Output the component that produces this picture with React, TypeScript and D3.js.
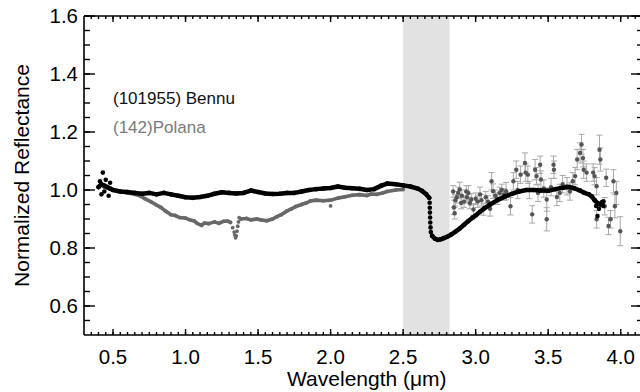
import React from "react";
import * as d3 from "d3";

// axis ticks
const xMajor = [0.5, 1.0, 1.5, 2.0, 2.5, 3.0, 3.5, 4.0];
const xLabels = ["0.5", "1.0", "1.5", "2.0", "2.5", "3.0", "3.5", "4.0"];
const yMajor = [0.6, 0.8, 1.0, 1.2, 1.4, 1.6];
const yLabels = ["0.6", "0.8", "1.0", "1.2", "1.4", "1.6"];
const waterBand = [2.5, 2.82];

// (101955) Bennu, [wavelength, reflectance]
const bennuVis: [number, number][] = [
  [0.4, 1.01], [0.42, 1.02], [0.44, 1.015], [0.46, 1.01], [0.48, 1.005], [0.5, 1.0],
  [0.55, 0.995], [0.6, 0.993], [0.65, 0.99], [0.7, 0.987], [0.75, 0.99], [0.8, 0.985],
  [0.85, 0.99], [0.9, 0.985], [0.95, 0.98], [1.0, 0.975], [1.05, 0.973], [1.1, 0.976],
  [1.15, 0.98], [1.2, 0.987], [1.25, 0.992], [1.3, 0.99], [1.35, 0.988], [1.4, 0.99],
  [1.45, 0.998], [1.5, 0.993], [1.55, 0.988], [1.6, 0.986], [1.65, 0.987], [1.7, 0.99],
  [1.75, 0.99], [1.8, 0.995], [1.85, 1.0], [1.9, 1.003], [1.95, 1.005], [2.0, 1.007],
  [2.05, 1.012], [2.1, 1.008], [2.15, 1.006], [2.2, 1.004], [2.25, 1.0], [2.3, 1.003],
  [2.35, 1.015], [2.39, 1.022], [2.45, 1.02], [2.5, 1.016], [2.55, 1.012], [2.6, 1.005],
  [2.63, 0.997], [2.66, 0.985], [2.68, 0.973],
];
const bennuDrop: [number, number][] = [
  [2.683, 0.956], [2.684, 0.939], [2.685, 0.922], [2.686, 0.905], [2.687, 0.888],
  [2.689, 0.871], [2.691, 0.855],
];
const bennuIR: [number, number][] = [
  [2.7, 0.842], [2.72, 0.832], [2.74, 0.828], [2.76, 0.83], [2.78, 0.834], [2.8, 0.838],
  [2.83, 0.846], [2.86, 0.856], [2.89, 0.867], [2.92, 0.88], [2.95, 0.893], [2.98, 0.905],
  [3.0, 0.912], [3.03, 0.925], [3.06, 0.937], [3.1, 0.95], [3.15, 0.965], [3.2, 0.977],
  [3.25, 0.987], [3.3, 0.995], [3.35, 1.0], [3.4, 1.0], [3.45, 0.998], [3.5, 0.997],
  [3.55, 1.003], [3.6, 1.008], [3.65, 1.01], [3.68, 1.006], [3.72, 0.998], [3.75, 0.99],
  [3.78, 0.985], [3.8, 0.978], [3.82, 0.965], [3.84, 0.955], [3.86, 0.95], [3.88, 0.96],
];
const bennuScatter: [number, number][] = [
  [0.43, 1.06], [0.42, 0.985], [0.47, 0.98], [0.41, 1.03], [0.45, 1.035], [0.44, 0.995],
  [0.48, 1.025], [3.83, 0.945], [3.85, 0.935], [3.87, 0.958], [3.84, 0.91], [3.88, 0.945],
];

// (142) Polana
const polanaVisA: [number, number][] = [
  [0.44, 1.01], [0.5, 1.0], [0.55, 0.995], [0.6, 0.99], [0.65, 0.985], [0.69, 0.979],
  [0.72, 0.97], [0.76, 0.96], [0.8, 0.948], [0.83, 0.94], [0.86, 0.928], [0.9, 0.915],
  [0.93, 0.912], [0.96, 0.905], [1.0, 0.903], [1.03, 0.897], [1.06, 0.893], [1.08, 0.885],
  [1.11, 0.878], [1.13, 0.886], [1.16, 0.884], [1.2, 0.89], [1.23, 0.885], [1.26, 0.892],
  [1.29, 0.893], [1.31, 0.888],
];
const polanaVisB: [number, number][] = [
  [1.38, 0.9], [1.42, 0.902], [1.45, 0.897], [1.49, 0.9], [1.52, 0.897], [1.56, 0.894],
  [1.6, 0.9], [1.63, 0.908], [1.66, 0.915], [1.7, 0.928], [1.73, 0.935], [1.76, 0.943],
  [1.8, 0.95], [1.83, 0.955], [1.86, 0.962], [1.9, 0.965], [1.95, 0.963], [2.0, 0.965],
  [2.05, 0.972], [2.1, 0.977], [2.15, 0.982], [2.2, 0.984], [2.25, 0.981], [2.28, 0.986],
  [2.32, 0.985], [2.36, 0.99], [2.39, 0.995], [2.45, 1.0], [2.5, 1.002],
];
const polanaScatter: [number, number][] = [
  [1.325, 0.87], [1.335, 0.855], [1.34, 0.845], [1.345, 0.835], [1.35, 0.842],
  [1.355, 0.858], [1.36, 0.875], [1.365, 0.89], [1.37, 0.905], [2.0, 0.945],
];
// [wavelength, reflectance, error]
const polanaIR: [number, number, number][] = [
  [2.845, 0.995, 0.02], [2.85, 0.94, 0.025], [2.855, 0.92, 0.02], [2.86, 0.965, 0.02],
  [2.87, 0.975, 0.02], [2.88, 0.99, 0.02], [2.89, 1.002, 0.025], [2.9, 0.955, 0.02],
  [2.905, 0.98, 0.02], [2.92, 0.96, 0.02], [2.935, 0.995, 0.02], [2.94, 0.975, 0.02],
  [2.95, 0.99, 0.025], [2.96, 0.955, 0.02], [2.97, 0.967, 0.02], [2.985, 0.933, 0.02],
  [3.0, 0.97, 0.02], [3.015, 0.96, 0.02], [3.03, 0.985, 0.025], [3.04, 0.965, 0.02],
  [3.053, 0.933, 0.02], [3.07, 0.975, 0.02], [3.085, 0.96, 0.02], [3.1, 0.935, 0.025],
  [3.11, 1.03, 0.03], [3.12, 0.996, 0.025], [3.135, 0.98, 0.02], [3.15, 0.97, 0.02],
  [3.165, 0.99, 0.02], [3.18, 1.0, 0.02], [3.195, 0.985, 0.02], [3.21, 0.996, 0.03],
  [3.24, 0.944, 0.03], [3.26, 1.03, 0.03], [3.28, 1.07, 0.03], [3.29, 1.0, 0.03],
  [3.31, 1.053, 0.03], [3.34, 1.093, 0.035], [3.345, 1.06, 0.03], [3.36, 1.053, 0.03],
  [3.37, 1.0, 0.03], [3.39, 0.916, 0.03], [3.41, 1.07, 0.035], [3.42, 1.048, 0.03],
  [3.43, 0.99, 0.03], [3.445, 1.087, 0.03], [3.45, 1.036, 0.03], [3.47, 1.005, 0.03],
  [3.49, 0.967, 0.04], [3.49, 0.899, 0.04], [3.52, 1.01, 0.03], [3.537, 1.087, 0.03],
  [3.54, 1.07, 0.03], [3.56, 0.976, 0.03], [3.58, 0.99, 0.03], [3.6, 1.02, 0.03],
  [3.63, 1.013, 0.03], [3.65, 0.995, 0.03], [3.67, 1.03, 0.03], [3.686, 1.048, 0.03],
  [3.7, 1.105, 0.035], [3.72, 1.128, 0.035], [3.73, 1.157, 0.035], [3.74, 1.11, 0.03],
  [3.745, 1.07, 0.03], [3.765, 1.06, 0.03], [3.81, 1.06, 0.03], [3.82, 1.048, 0.03],
  [3.834, 1.013, 0.03], [3.834, 0.899, 0.03], [3.854, 1.139, 0.05], [3.86, 1.105, 0.04],
  [3.89, 0.944, 0.03], [3.9, 1.042, 0.03], [3.916, 0.876, 0.03], [3.93, 0.899, 0.03],
  [3.95, 1.03, 0.04], [3.96, 0.944, 0.04], [3.97, 0.99, 0.04], [3.997, 0.858, 0.05],
];

const width = 640;
const height = 392;
const margin = { top: 16, right: -1, bottom: 57, left: 84 };
const font = "'Liberation Sans', Arial, Helvetica, sans-serif";

export default function App() {
  const x = d3.scaleLinear().domain([0.3, 4.14]).range([margin.left, width - margin.right]);
  const y = d3.scaleLinear().domain([0.5, 1.6]).range([height - margin.bottom, margin.top]);
  const x0 = margin.left;
  const x1 = width - margin.right;
  const y0 = height - margin.bottom;
  const y1 = margin.top;

  const line = d3
    .line<[number, number]>()
    .x((d) => x(d[0]))
    .y((d) => y(d[1]));

  const xMinor = d3.range(7, 83).map((i) => i * 0.05);
  const yMinor = d3.range(11, 33).map((i) => i * 0.05);

  return (
    <div style={{ position: "fixed", left: 0, top: 0 }}>
      <svg width={width} height={height} style={{ display: "block", background: "#fff" }}>
        {/* water band */}
        <rect
          x={x(waterBand[0])}
          y={y1 + 1}
          width={x(waterBand[1]) - x(waterBand[0])}
          height={y0 - y1 - 1}
          fill="#e2e2e2"
        />

        {/* Polana */}
        {[polanaVisA, polanaVisB].map((seg, i) => (
          <path key={"pl" + i} d={line(seg) ?? ""} fill="none" stroke="#686868" strokeWidth={3.6} strokeLinejoin="round" strokeLinecap="round" />
        ))}
        {[...polanaVisA, ...polanaVisB, ...polanaScatter].map((d, i) => (
          <circle key={"ps" + i} cx={x(d[0])} cy={y(d[1])} r={1.9} fill="#686868" />
        ))}
        {polanaIR.map((d, i) => (
          <g key={"pe" + i} stroke="#a8a8a8" strokeWidth={1}>
            <line x1={x(d[0])} x2={x(d[0])} y1={y(d[1] - d[2])} y2={y(d[1] + d[2])} />
            <line x1={x(d[0]) - 3} x2={x(d[0]) + 3} y1={y(d[1] - d[2])} y2={y(d[1] - d[2])} />
            <line x1={x(d[0]) - 3} x2={x(d[0]) + 3} y1={y(d[1] + d[2])} y2={y(d[1] + d[2])} />
          </g>
        ))}
        {polanaIR.map((d, i) => (
          <circle key={"pi" + i} cx={x(d[0])} cy={y(d[1])} r={2.2} fill="#555" />
        ))}

        {/* Bennu */}
        {[bennuVis, bennuIR].map((seg, i) => (
          <path key={"bl" + i} d={line(seg) ?? ""} fill="none" stroke="#000" strokeWidth={4.5} strokeLinejoin="round" strokeLinecap="round" />
        ))}
        {[...bennuVis, ...bennuIR, ...bennuDrop, ...bennuScatter].map((d, i) => (
          <circle key={"b" + i} cx={x(d[0])} cy={y(d[1])} r={2.3} fill="#000" />
        ))}

        {/* frame */}
        <g stroke="#000" strokeWidth={1.6} fill="none">
          <line x1={x0} x2={x1} y1={y0} y2={y0} />
          <line x1={x0} x2={x1} y1={y1} y2={y1} />
          <line x1={x0} x2={x0} y1={y1} y2={y0} />
          <line x1={x1} x2={x1} y1={y1} y2={y0} />
        </g>
        <g stroke="#000" strokeWidth={1.4}>
          {xMinor.map((v, i) => (
            <g key={"xm" + i}>
              <line x1={x(v)} x2={x(v)} y1={y0} y2={y0 - 3} />
              <line x1={x(v)} x2={x(v)} y1={y1} y2={y1 + 3} />
            </g>
          ))}
          {xMajor.map((v, i) => (
            <g key={"xM" + i}>
              <line x1={x(v)} x2={x(v)} y1={y0} y2={y0 - 6} />
              <line x1={x(v)} x2={x(v)} y1={y1} y2={y1 + 6} />
            </g>
          ))}
          {yMinor.map((v, i) => (
            <g key={"ym" + i}>
              <line x1={x0} x2={x0 + 6} y1={y(v)} y2={y(v)} />
              <line x1={x1} x2={x1 - 4} y1={y(v)} y2={y(v)} />
            </g>
          ))}
          {yMajor.map((v, i) => (
            <g key={"yM" + i}>
              <line x1={x0} x2={x0 + 11} y1={y(v)} y2={y(v)} />
              <line x1={x1} x2={x1 - 10} y1={y(v)} y2={y(v)} />
            </g>
          ))}
        </g>

        {/* tick labels */}
        <g fontFamily={font} fontSize={20.5} fill="#000">
          {xMajor.map((v, i) => (
            <text key={"xl" + i} x={x(v)} y={364} textAnchor="middle">
              {xLabels[i]}
            </text>
          ))}
          {yMajor.map((v, i) => (
            <text key={"yl" + i} x={78} y={y(v) + 7} textAnchor="end">
              {yLabels[i]}
            </text>
          ))}
        </g>

        {/* titles */}
        <text x={x(2.25)} y={386} textAnchor="middle" fontFamily={font} fontSize={21}>
          Wavelength (μm)
        </text>
        <text
          transform={`translate(29,${(y0 + y1) / 2}) rotate(-90)`}
          textAnchor="middle"
          fontFamily={font}
          fontSize={21}
        >
          Normalized Reflectance
        </text>

        {/* legend */}
        <text x={113} y={104} fontFamily={font} fontSize={17} fill="#111">
          (101955) Bennu
        </text>
        <text x={113} y={133} fontFamily={font} fontSize={17} fill="#7a7a7a">
          (142)Polana
        </text>
      </svg>
    </div>
  );
}
